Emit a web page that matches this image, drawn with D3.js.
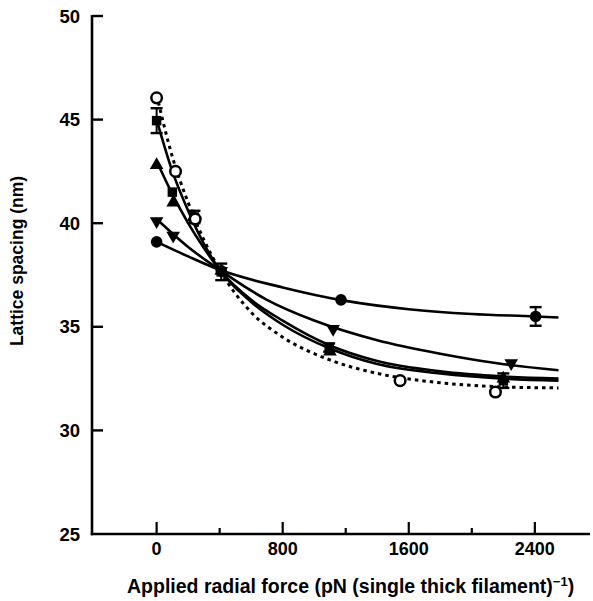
<!DOCTYPE html>
<html>
<head>
<meta charset="utf-8">
<script src="https://cdn.jsdelivr.net/npm/d3@7"></script>
<style>
    body { margin: 0; background: #fff; }
    svg text { font-family: "Liberation Sans", Arial, sans-serif; font-weight: 700; fill: #000; }
</style>
</head>
<body>
<svg id="chart"></svg>
<script>
// Data (x in pN, y in nm)
const xTicks = [0, 800, 1600, 2400];
const xMinorTicks = [400, 1200, 2000];
const yTicks = [50, 45, 40, 35, 30];
const yTickLabels = ["50", "45", "40", "35", "30", "25"];
const yLabelValues = [50, 45, 40, 35, 30, 25];

// measured points; err = half height of error bar
const filledCirclePts = [
    {x: 0, y: 39.1}, {x: 410, y: 37.7}, {x: 1170, y: 36.3}, {x: 2405, y: 35.5, err: 0.45}
];
const invTrianglePts = [
    {x: 0, y: 40.1}, {x: 105, y: 39.4}, {x: 410, y: 37.7}, {x: 1120, y: 34.9}, {x: 2250, y: 33.25}
];
const trianglePts = [
    {x: 0, y: 42.8}, {x: 105, y: 41.0}, {x: 235, y: 40.3}, {x: 410, y: 37.7}, {x: 1100, y: 33.8}, {x: 2200, y: 32.5}
];
const squarePts = [
    {x: 0, y: 44.95, err: 0.6}, {x: 100, y: 41.5}, {x: 240, y: 40.3, err: 0.3},
    {x: 410, y: 37.65, err: 0.4}, {x: 1095, y: 34.0, err: 0.2}, {x: 2200, y: 32.4, err: 0.35}
];
const openCirclePts = [
    {x: 0, y: 46.05}, {x: 120, y: 42.5}, {x: 245, y: 40.2}, {x: 1545, y: 32.4}, {x: 2150, y: 31.85}
];

// fitted curves
const filledCircleFit = [[0, 39.1], [200, 38.4], [400, 37.75], [800, 36.9], [1200, 36.25], [1600, 35.85], [2000, 35.62], [2400, 35.5], [2550, 35.45]];
const invTriangleFit = [[0, 40.2], [200, 38.85], [400, 37.75], [700, 36.3], [1000, 35.3], [1400, 34.35], [1800, 33.7], [2150, 33.25], [2550, 32.9]];
const triangleFit = [[0, 43.0], [100, 41.4], [200, 40.0], [300, 38.8], [400, 37.75], [600, 36.3], [800, 35.3], [1100, 34.1], [1400, 33.35], [1800, 32.85], [2200, 32.6], [2550, 32.5]];
const squareFit = [[0, 45.0], [100, 42.5], [200, 40.6], [300, 39.0], [400, 37.75], [600, 36.2], [800, 35.1], [1100, 33.95], [1400, 33.2], [1800, 32.75], [2200, 32.5], [2550, 32.4]];
const openCircleFit = [[0, 46.2], [100, 43.2], [200, 41.0], [300, 39.2], [400, 37.75], [600, 35.7], [800, 34.5], [1100, 33.4], [1400, 32.75], [1800, 32.3], [2200, 32.1], [2550, 32.05]];

const xLabel = "Applied radial force (pN (single thick filament)";
const yLabel = "Lattice spacing (nm)";

const width = 593, height = 601;

const svg = d3.select("#chart")
    .attr("width", width)
    .attr("height", height);

// scales: axis corner at (92, 534)
const xScale = d3.scaleLinear().domain([-410, 2750]).range([92, 590]);
const yScale = d3.scaleLinear().domain([25, 50]).range([534, 16]);

// Y axis line + inward ticks
svg.append("line")
    .attr("x1", xScale.range()[0]).attr("x2", xScale.range()[0])
    .attr("y1", yScale(50) - 1).attr("y2", yScale(25) + 1.2)
    .attr("stroke", "#000").attr("stroke-width", 2.6);

svg.selectAll(".ytick").data(yTicks).join("line")
    .attr("class", "ytick")
    .attr("x1", xScale.range()[0]).attr("x2", xScale.range()[0] + 11)
    .attr("y1", d => yScale(d)).attr("y2", d => yScale(d))
    .attr("stroke", "#000").attr("stroke-width", 2.4);

svg.selectAll(".ylab").data(yLabelValues).join("text")
    .attr("class", "ylab")
    .attr("x", 80)
    .attr("y", d => yScale(d) + 6.5)
    .attr("text-anchor", "end")
    .style("font-size", "18.5px")
    .text((d, i) => yTickLabels[i]);

// X axis line + upward ticks
svg.append("line")
    .attr("x1", xScale.range()[0] - 1.2).attr("x2", xScale.range()[1])
    .attr("y1", yScale(25)).attr("y2", yScale(25))
    .attr("stroke", "#000").attr("stroke-width", 2.6);

svg.selectAll(".xtick").data(xTicks).join("line")
    .attr("class", "xtick")
    .attr("x1", d => xScale(d)).attr("x2", d => xScale(d))
    .attr("y1", yScale(25)).attr("y2", yScale(25) - 12)
    .attr("stroke", "#000").attr("stroke-width", 2.2);

svg.selectAll(".xminor").data(xMinorTicks).join("line")
    .attr("class", "xminor")
    .attr("x1", d => xScale(d)).attr("x2", d => xScale(d))
    .attr("y1", yScale(25)).attr("y2", yScale(25) - 6)
    .attr("stroke", "#000").attr("stroke-width", 2.2);

svg.selectAll(".xlab").data(xTicks).join("text")
    .attr("class", "xlab")
    .attr("x", d => xScale(d))
    .attr("y", yScale(25) + 21)
    .attr("text-anchor", "middle")
    .style("font-size", "18px")
    .text(d => d);

// axis titles
let xt = svg.append("text")
    .attr("x", 127)
    .attr("y", 593)
    .style("font-size", "19.5px");
xt.append("tspan").text(xLabel);
xt.append("tspan").attr("dy", -7).style("font-size", "13px").text("\u22121");
xt.append("tspan").attr("dy", 7).text(")");

svg.append("text")
    .attr("transform", "rotate(-90)")
    .attr("x", -261)
    .attr("y", 23)
    .attr("text-anchor", "middle")
    .style("font-size", "17.5px")
    .text(yLabel);

// fitted curves
const line = d3.line()
    .x(d => xScale(d[0]))
    .y(d => yScale(d[1]))
    .curve(d3.curveMonotoneX);

const fits = [
    {data: filledCircleFit, dash: null},
    {data: invTriangleFit, dash: null},
    {data: triangleFit, dash: null},
    {data: squareFit, dash: null},
    {data: openCircleFit, dash: "3.5,4"}
];

svg.selectAll(".fit").data(fits).join("path")
    .attr("class", "fit")
    .attr("d", d => line(d.data))
    .attr("fill", "none")
    .attr("stroke", "#000")
    .attr("stroke-width", d => d.dash ? 3 : 2.6)
    .attr("stroke-dasharray", d => d.dash);

// error bars
const allPts = [].concat(filledCirclePts, invTrianglePts, trianglePts, squarePts, openCirclePts)
    .filter(d => d.err);

const eb = svg.selectAll(".err").data(allPts).join("g")
    .attr("class", "err")
    .attr("transform", d => `translate(${xScale(d.x)},0)`);
eb.append("line")
    .attr("y1", d => yScale(d.y + d.err)).attr("y2", d => yScale(d.y - d.err))
    .attr("stroke", "#000").attr("stroke-width", 2);
eb.append("line")
    .attr("x1", -6).attr("x2", 6)
    .attr("y1", d => yScale(d.y + d.err)).attr("y2", d => yScale(d.y + d.err))
    .attr("stroke", "#000").attr("stroke-width", 2.4);
eb.append("line")
    .attr("x1", -6).attr("x2", 6)
    .attr("y1", d => yScale(d.y - d.err)).attr("y2", d => yScale(d.y - d.err))
    .attr("stroke", "#000").attr("stroke-width", 2.4);

// markers
const tri = d3.symbol().type(d3.symbolTriangle).size(80);
const sq = d3.symbol().type(d3.symbolSquare).size(90);

svg.selectAll(".fc").data(filledCirclePts).join("circle")
    .attr("class", "fc")
    .attr("cx", d => xScale(d.x)).attr("cy", d => yScale(d.y))
    .attr("r", 5.8).attr("fill", "#000");

svg.selectAll(".itri").data(invTrianglePts).join("path")
    .attr("class", "itri")
    .attr("d", tri)
    .attr("transform", d => `translate(${xScale(d.x)},${yScale(d.y)}) rotate(180)`)
    .attr("fill", "#000");

svg.selectAll(".tri").data(trianglePts).join("path")
    .attr("class", "tri")
    .attr("d", tri)
    .attr("transform", d => `translate(${xScale(d.x)},${yScale(d.y)})`)
    .attr("fill", "#000");

svg.selectAll(".sq").data(squarePts).join("path")
    .attr("class", "sq")
    .attr("d", sq)
    .attr("transform", d => `translate(${xScale(d.x)},${yScale(d.y)})`)
    .attr("fill", "#000");

svg.selectAll(".oc").data(openCirclePts).join("circle")
    .attr("class", "oc")
    .attr("cx", d => xScale(d.x)).attr("cy", d => yScale(d.y))
    .attr("r", 5.3).attr("fill", "#fff")
    .attr("stroke", "#000").attr("stroke-width", 2.5);
</script>
</body>
</html>
